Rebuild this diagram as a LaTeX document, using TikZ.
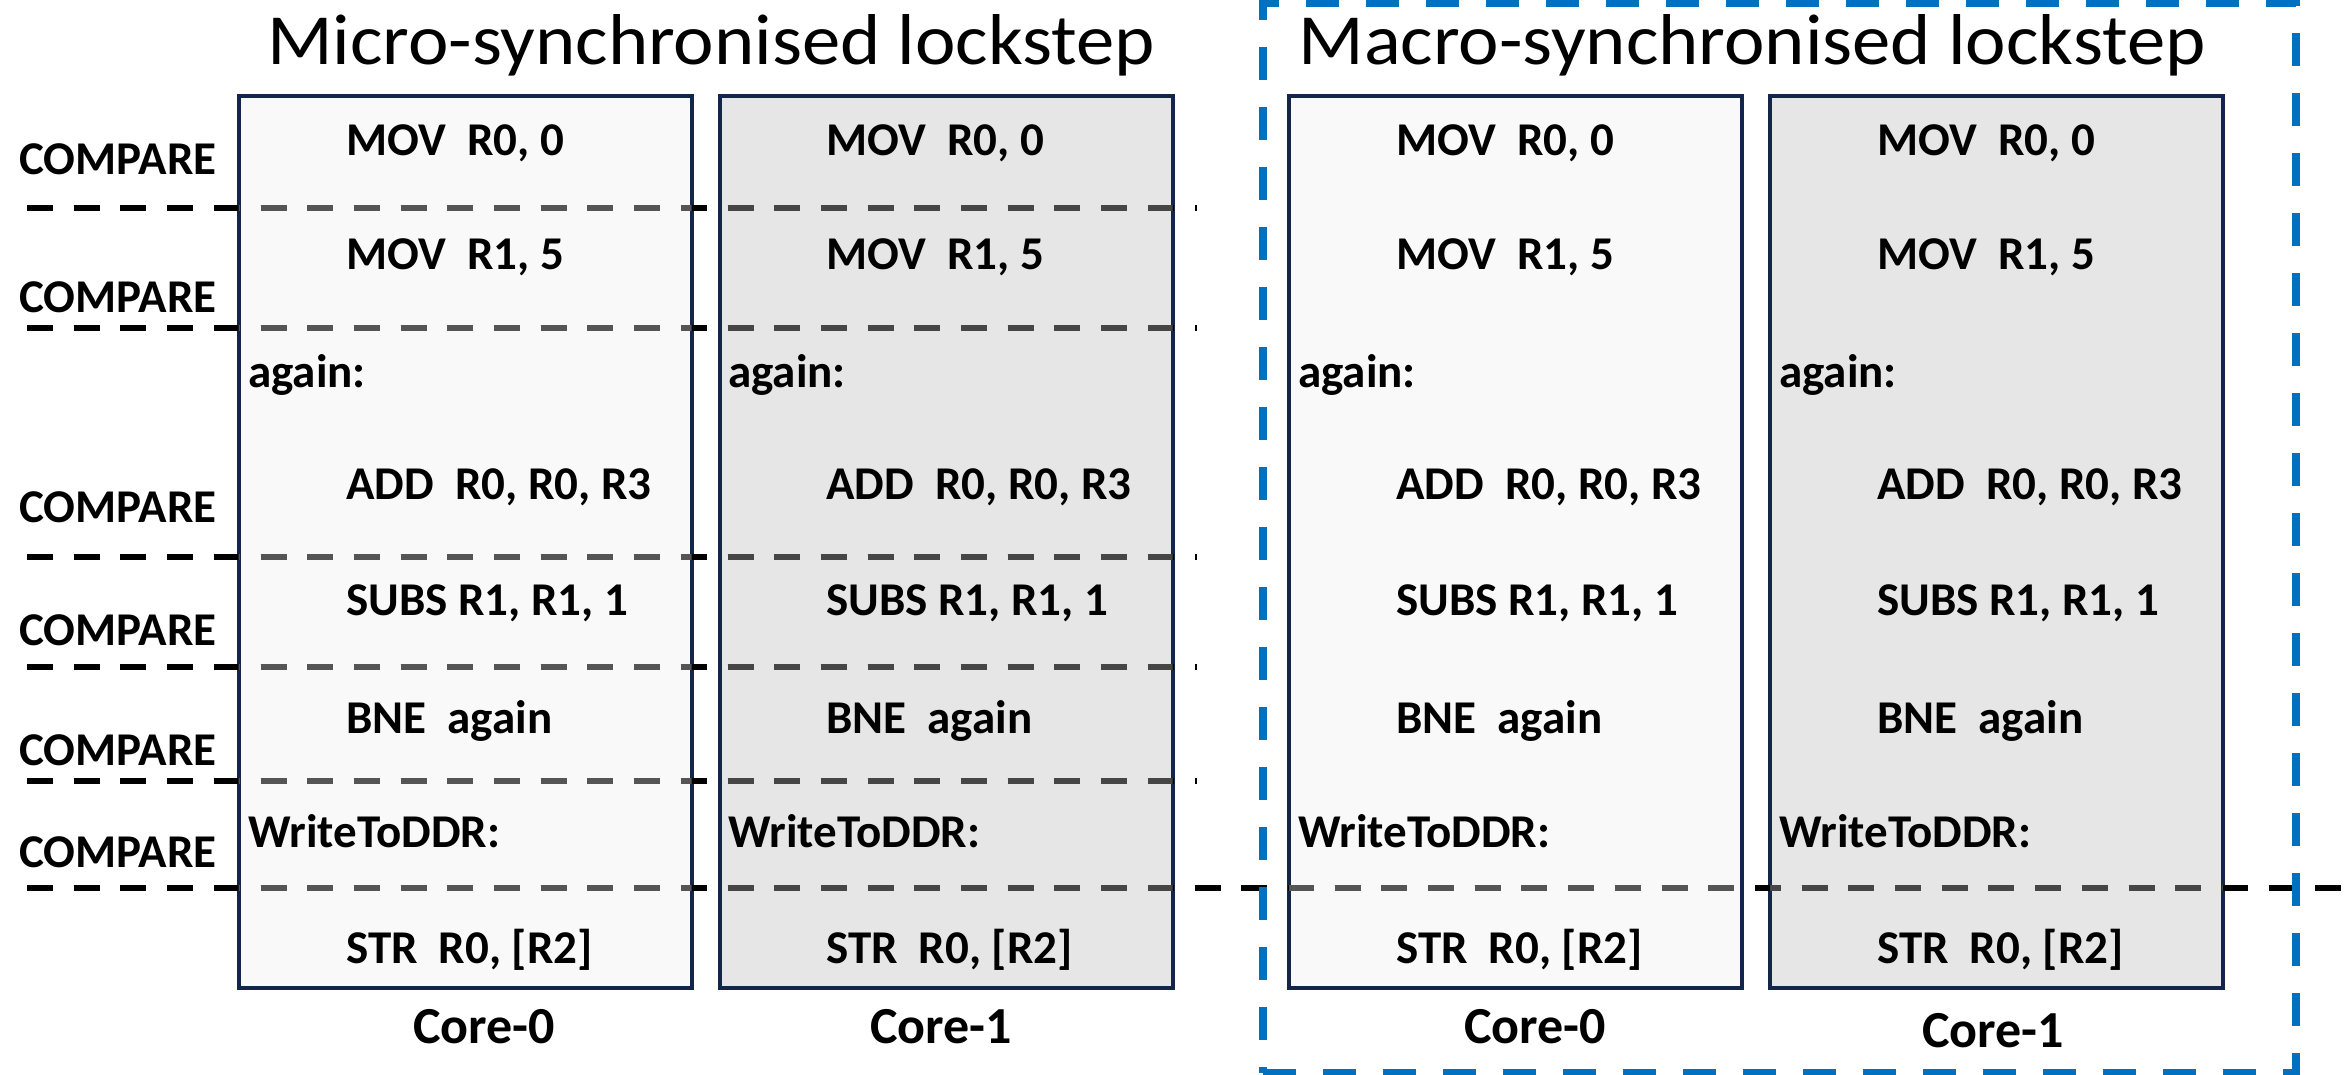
\documentclass[tikz,border=0pt]{standalone}
\usepackage{fontspec}
\setmainfont{Carlito}
\definecolor{boxline}{HTML}{14254A}
\definecolor{fillA}{HTML}{F9F9F9}
\definecolor{fillB}{HTML}{E6E6E6}
\definecolor{grayA}{HTML}{555555}
\definecolor{grayB}{HTML}{464646}
\definecolor{macblue}{HTML}{0070C0}
\tikzset{
 corebox/.style={draw=boxline, line width=4pt, minimum width=453pt, minimum height=892pt, inner sep=0pt},
 sepline/.style={line width=6pt, dash pattern=on 26pt off 20.7pt},
 instr/.style={anchor=base west, inner sep=0pt, font=\fontsize{47}{50}\selectfont\bfseries},
 cmp/.style={anchor=base, inner sep=0pt, font=\fontsize{47}{50}\selectfont\bfseries},
 corelbl/.style={anchor=base, inner sep=0pt, font=\fontsize{52}{56}\selectfont\bfseries},
 ttl/.style={anchor=base, inner sep=0pt, font=\fontsize{72}{80}\selectfont},
 groupbox/.style={draw=macblue, line width=8pt, dash pattern=on 33pt off 27pt, minimum width=1033pt, minimum height=1070pt, inner sep=0pt},
}
\begin{document}
\begin{tikzpicture}[x=1pt,y=-1pt]
\useasboundingbox (0,0) rectangle (2351,1075);
\fill[white] (0,0) rectangle (2351,1075);
% core boxes
\node[corebox, fill=fillA] (a0) at (465,542) {};
\node[corebox, fill=fillB] (a1) at (946,542) {};
\node[corebox, fill=fillA] (b0) at (1515.5,542) {};
\node[corebox, fill=fillB] (b1) at (1996.5,542) {};
% separator lines
\foreach \i/\y in {1/208,2/328,3/557,4/667,5/781} {
  \coordinate (ls\i) at (27,\y);
  \coordinate (le\i) at (1197,\y);
}
\coordinate (ls6) at (27,888);
\coordinate (le6) at (2351,888);
\foreach \i in {1,...,6} \draw[sepline] (ls\i) -- (le\i);
\foreach \b/\c in {a0/grayA,a1/grayB,b0/grayA,b1/grayB} {
  \begin{scope}
    \clip ([shift={(2,-2)}]\b.south west) rectangle ([shift={(-2,2)}]\b.north east);
    \foreach \i in {1,...,6} \draw[sepline, draw=\c] (ls\i) -- (le\i);
  \end{scope}
}
% instructions
\foreach \b/\L in {a0/239,a1/719,b0/1289,b1/1770} {
  \node[instr] (\b-mov0) at (\L+107,155.5) {MOV\ \ R0, 0};
  \node[instr] (\b-mov1) at (\L+107,270) {MOV\ \ R1, 5};
  \node[instr] (\b-again) at (\L+9,387) {again:};
  \node[instr] (\b-add) at (\L+107,499) {ADD\ \ R0, R0, R3};
  \node[instr] (\b-subs) at (\L+107,615) {SUBS R1, R1, 1};
  \node[instr] (\b-bne) at (\L+107,733) {BNE\ \ again};
  \node[instr] (\b-wr) at (\L+9,847) {WriteToDDR:};
  \node[instr] (\b-str) at (\L+107,963) {STR\ \ R0, [R2]};
}
% compare labels
\foreach \i/\y in {1/175,2/313,3/522,4/645,5/765,6/867}
  \node[cmp] (cmp\i) at (118,\y) {COMPARE};
% core labels
\node[corelbl] (c-a0) at (484,1043) {Core-0};
\node[corelbl] (c-a1) at (941,1043) {Core-1};
\node[corelbl] (c-b0) at (1535,1043) {Core-0};
\node[corelbl] (c-b1) at (1993,1047) {Core-1};
% titles
\node[ttl] (t-micro) at (711,65) {\scalebox{1.065}[1]{Micro-synchronised lockstep}};
\node[ttl] (t-macro) at (1752,65) {\scalebox{1.065}[1]{Macro-synchronised lockstep}};
% macro group box
\node[groupbox] (mac) at (1779.5,538) {};
\end{tikzpicture}
\end{document}
